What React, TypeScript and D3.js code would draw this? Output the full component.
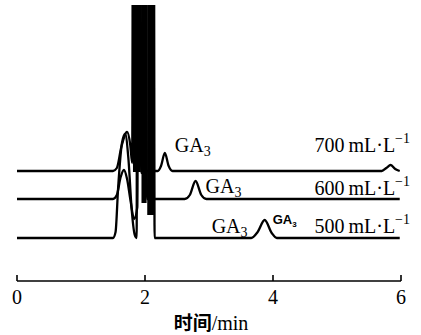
import React, { useEffect, useRef } from "react";
import * as d3 from "d3";

// time (min) / detector response above each trace's own baseline
const trace700: [number, number][] = [
  [0, 0], [1.5, 0], [1.56, 3], [1.63, 24], [1.72, 39], [1.77, 26], [1.8, 8],
  [1.812, 300], [1.93, 300], [1.94, -2], [1.96, 0],
  [2.2, 0], [2.25, 5], [2.31, 18], [2.37, 5], [2.43, 0],
  [5.7, 0], [5.77, 3], [5.84, 6], [5.91, 2], [5.98, 0],
];
const trace600: [number, number][] = [
  [0, 0], [1.5, 0], [1.56, 4], [1.62, 22], [1.67, 29], [1.72, 20], [1.77, 0],
  [1.83, -20], [1.88, -8], [1.9, 300], [2.02, 300], [2.03, 0],
  [2.62, 0], [2.7, 4], [2.79, 18], [2.88, 4], [2.96, 0], [5.98, 0],
];
const trace500: [number, number][] = [
  [0, 0], [1.5, 0], [1.54, 6], [1.58, 50], [1.64, 95], [1.69, 104], [1.74, 80],
  [1.79, 30], [1.84, 3], [1.87, 0], [1.875, 300], [2.14, 300], [2.15, 0],
  [3.66, 0], [3.76, 6], [3.87, 18], [3.98, 5], [4.06, 0], [5.98, 0],
];

// saturated solvent peaks: [start, end, lowest solid response]
const band700 = [1.812, 1.935, -1];
const band600 = [1.945, 2.025, -4];
const band500 = [2.035, 2.145, 23];

const offsets = [110, 82, 43];
const series = [trace700, trace600, trace500];
const bands = [band700, band600, band500];
const concLabels = ["700", "600", "500"];
const gaPeaks = [2.31, 2.79, 3.87];

const xTicks = [0, 2, 4, 6];
const xTitle = "时间/min";

const W = 421;
const H = 335;
const serif = "Times New Roman, Liberation Serif, DejaVu Serif, serif";

const App = () => {
  const svgRef = useRef<SVGSVGElement>(null);

  useEffect(() => {
    const svg = d3.select(svgRef.current);
    svg.selectAll("*").remove();

    const x = d3.scaleLinear().domain([0, 6]).range([17, 401]);
    const y = d3.scaleLinear().domain([0, 276]).range([281, 5]);

    svg
      .append("defs")
      .append("clipPath")
      .attr("id", "plot")
      .append("rect")
      .attr("x", 0)
      .attr("y", 5)
      .attr("width", W)
      .attr("height", 280);

    const g = svg.append("g").attr("clip-path", "url(#plot)");

    series.forEach((s, i) => {
      const off = offsets[i];
      const [b0, b1, floor] = bands[i];
      g.append("rect")
        .attr("x", x(b0))
        .attr("y", y(300))
        .attr("width", x(b1) - x(b0))
        .attr("height", y(off + floor) - y(300))
        .attr("fill", "#000");

      const line = d3
        .line<[number, number]>()
        .x((d) => x(d[0]))
        .y((d) => y(off + d[1]))
        .curve(d3.curveMonotoneX);
      g.append("path")
        .attr("d", line(s))
        .attr("fill", "none")
        .attr("stroke", "#000")
        .attr("stroke-width", 2.3)
        .attr("stroke-linejoin", "round");
    });

    // axis
    const axis = svg.append("g");
    axis
      .append("line")
      .attr("x1", x(0))
      .attr("x2", x(6))
      .attr("y1", 281)
      .attr("y2", 281)
      .attr("stroke", "#000")
      .attr("stroke-width", 1.6);
    xTicks.forEach((t) => {
      axis
        .append("line")
        .attr("x1", x(t))
        .attr("x2", x(t))
        .attr("y1", 281)
        .attr("y2", 275)
        .attr("stroke", "#000")
        .attr("stroke-width", 1.6);
      axis
        .append("text")
        .attr("x", x(t))
        .attr("y", 304)
        .attr("text-anchor", "middle")
        .attr("font-family", serif)
        .attr("font-size", 20)
        .text(String(t));
    });
    const title = svg
      .append("text")
      .attr("x", 211)
      .attr("y", 330)
      .attr("text-anchor", "middle")
      .attr("font-size", 19);
    title
      .append("tspan")
      .attr("font-family", "Noto Sans CJK SC, sans-serif")
      .attr("font-weight", "bold")
      .text(xTitle.slice(0, 2));
    title.append("tspan").attr("font-family", serif).attr("font-size", 20).text(xTitle.slice(2));

    // labels
    series.forEach((s, i) => {
      const base = y(offsets[i]);
      const conc = svg
        .append("text")
        .attr("x", 410)
        .attr("y", base - (i === 1 ? 4 : 19 - (i === 2 ? 14 : 0)))
        .attr("text-anchor", "end")
        .attr("font-family", serif)
        .attr("font-size", 20);
      conc.append("tspan").text(concLabels[i] + "\u2009mL\u00b7L");
      conc.append("tspan").attr("dy", -9).attr("font-size", 14).text("\u22121");

      const ga = svg
        .append("text")
        .attr("x", i === 2 ? x(gaPeaks[i]) - 53 : x(gaPeaks[i]) + 10)
        .attr("y", i === 2 ? base - 5 : base - (i === 0 ? 19 : 6))
        .attr("font-family", serif)
        .attr("font-size", 20);
      ga.append("tspan").text("GA");
      ga.append("tspan").attr("dy", 4).attr("font-size", 14).text("3");
    });

    const small = svg
      .append("text")
      .attr("x", x(gaPeaks[2]) + 8)
      .attr("y", y(offsets[2]) - 14)
      .attr("font-family", "Liberation Sans, Arial, sans-serif")
      .attr("font-size", 13)
      .attr("font-weight", "bold");
    small.append("tspan").text("GA");
    small.append("tspan").attr("dy", 3).attr("font-size", 8).text("3");
  }, []);

  return (
    <svg
      ref={svgRef}
      width={W}
      height={H}
      style={{ position: "absolute", left: 0, top: 0, background: "#fff" }}
    />
  );
};

export default App;
